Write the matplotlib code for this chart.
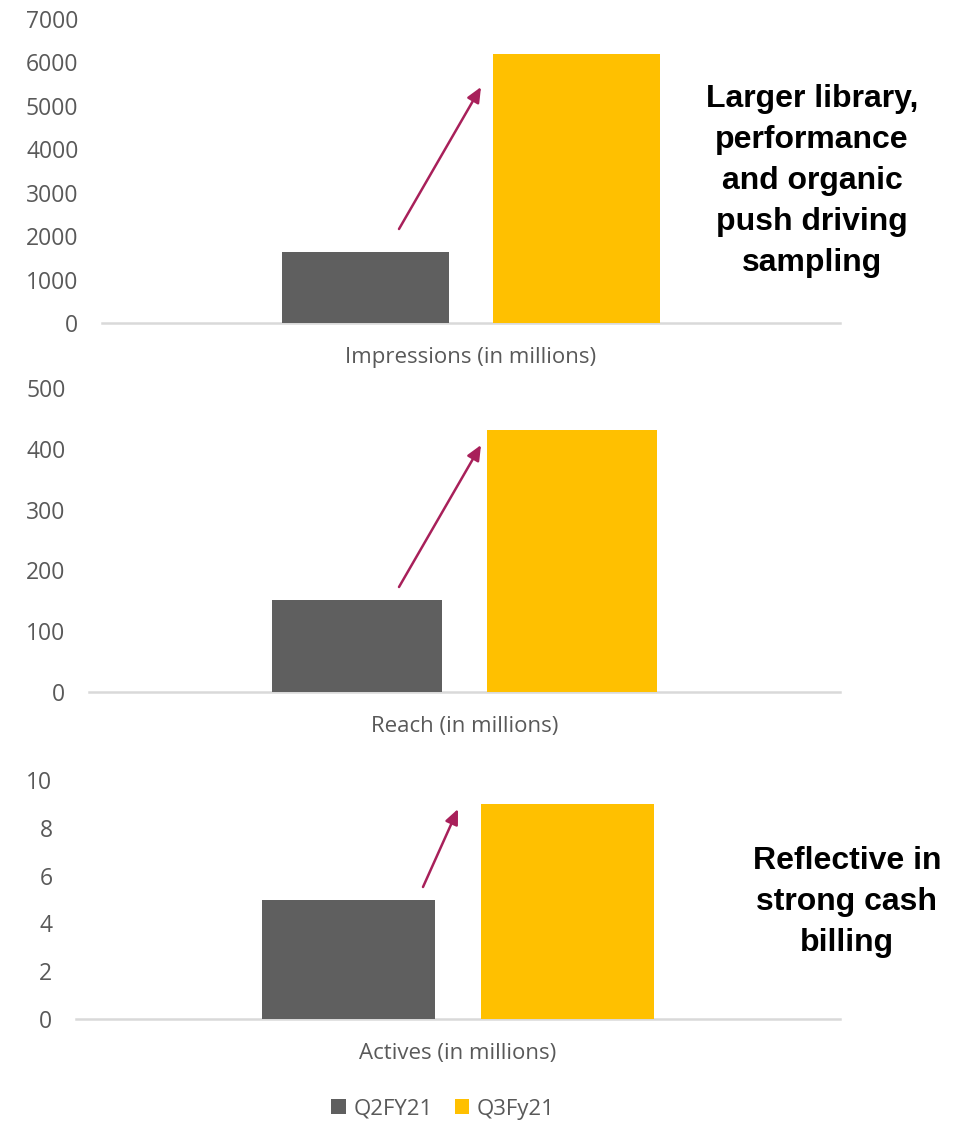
import matplotlib
matplotlib.use("Agg")
import matplotlib.pyplot as plt

# data
series = ["Q2FY21", "Q3Fy21"]
colors = ["#5f5f5f", "#ffc000"]
metrics = ["Impressions (in millions)", "Reach (in millions)", "Actives (in millions)"]
q2_values = [1640, 151, 5]
q3_values = [6200, 431, 9]
y_max = [7000, 500, 10]
y_step = [1000, 100, 2]
notes = ["Larger library,\nperformance\nand organic\npush driving\nsampling",
         None,
         "Reflective in\nstrong cash\nbilling"]

plt.rcParams["font.family"] = ["Open Sans", "DejaVu Sans"]
txt_gray = "#595959"
arrow_col = "#a8205a"

W, H = 961, 1121
fig = plt.figure(figsize=(W / 100, H / 100), dpi=100)

# axes boxes in pixels: left, right, top(ymax), bottom(0)
boxes = [(102, 840, 19, 323), (89, 840, 388, 692), (76, 840, 780, 1019)]
# arrows in pixel space of the original (start, end)
arrows = [((399, 229), (481, 87)), ((399, 587), (481, 445)), ((423, 887), (458, 809))]

width = 0.226
offset = 0.143
handles = None
for i, (l, r, t, b) in enumerate(boxes):
    ax = fig.add_axes([l / W, 1 - b / H, (r - l) / W, (b - t) / H])
    b1 = ax.bar([-offset], [q2_values[i]], width, color=colors[0], label=series[0], zorder=2)
    b2 = ax.bar([offset], [q3_values[i]], width, color=colors[1], label=series[1], zorder=2)
    handles = [b1, b2]
    ax.set_xlim(-0.5, 0.5)
    ax.set_ylim(0, y_max[i])
    ax.set_yticks(range(0, y_max[i] + 1, y_step[i]))
    ax.set_xticks([0])
    ax.set_xticklabels([metrics[i]])
    for s in ["top", "right", "left"]:
        ax.spines[s].set_visible(False)
    ax.spines["bottom"].set_color("#d9d9d9")
    ax.spines["bottom"].set_linewidth(1.8)
    ax.spines["bottom"].set_zorder(1)
    ax.tick_params(axis="y", length=0, pad=17, labelsize=16.5, labelcolor=txt_gray)
    ax.tick_params(axis="x", length=0, pad=17, labelsize=16, labelcolor=txt_gray)
    ax.patch.set_alpha(0)

    # arrow, converted from pixel layout to data coords
    (sx, sy), (ex, ey) = arrows[i]
    def to_data(px, py):
        return (-0.5 + (px - l) / (r - l), (b - py) / (b - t) * y_max[i])
    ax.annotate("", xy=to_data(ex, ey), xytext=to_data(sx, sy),
                arrowprops=dict(arrowstyle="-|>,head_length=0.9,head_width=0.4",
                                color=arrow_col, lw=1.8, shrinkA=0, shrinkB=0))

fig.text(812 / W, 1 - 181 / H, notes[0], ha="center", va="center", fontsize=23,
         fontweight="bold", family="Liberation Sans", linespacing=1.48)
fig.text(847 / W, 1 - 902 / H, notes[2], ha="center", va="center", fontsize=23,
         fontweight="bold", family="Liberation Sans", linespacing=1.48)

fig.legend(handles=handles, labels=series, loc="center", bbox_to_anchor=(443 / W, 1 - 1109 / H),
           ncol=2, frameon=False, fontsize=16, labelcolor=txt_gray,
           handlelength=0.65, handleheight=0.65, handletextpad=0.35, columnspacing=1.0)

fig.savefig("out.png", dpi=100)
